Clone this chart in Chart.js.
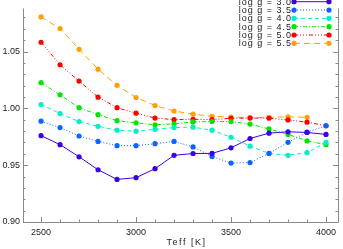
<!DOCTYPE html>
<html>
<head>
<meta charset="utf-8">
<script src="https://cdn.jsdelivr.net/npm/chart.js@4/dist/chart.umd.min.js"></script>
<style>
html,body{margin:0;padding:0;background:#fff;}
#c{display:block;}
</style>
</head>
<body>
<canvas id="c" width="343" height="249"></canvas>
<script>
const teff = [2500,2600,2700,2800,2900,3000,3100,3200,3300,3400,3500,3600,3700,3800,3900,4000];
const seriesLabels = ['log g = 3.0','log g = 3.5','log g = 4.0','log g = 4.5','log g = 5.0','log g = 5.5'];
const logg30 = [0.9760,0.9681,0.9574,0.9460,0.9375,0.9390,0.9469,0.9587,0.9603,0.9604,0.9653,0.9735,0.9782,0.9794,0.9788,0.9771];
const logg35 = [0.9887,0.9831,0.9757,0.9709,0.9672,0.9672,0.9689,0.9709,0.9661,0.9576,0.9519,0.9523,0.9604,0.9701,0.9791,0.9847];
const logg40 = [1.0034,0.9955,0.9884,0.9842,0.9808,0.9799,0.9816,0.9831,0.9835,0.9808,0.9746,0.9667,0.9604,0.9587,0.9610,0.9701];
const logg45 = [1.0226,1.0119,1.0006,0.9945,0.9892,0.9873,0.9856,0.9864,0.9881,0.9884,0.9884,0.9862,0.9819,0.9771,0.9714,0.9681];
const logg50 = [1.0582,1.0384,1.0240,1.0099,1.0006,0.9958,0.9915,0.9901,0.9904,0.9901,0.9913,0.9915,0.9913,0.9898,0.9879,0.9847];
const logg55 = [1.0805,1.0703,1.0520,1.0345,1.0203,1.0096,1.0025,0.9977,0.9949,0.9930,0.9924,0.9918,0.9921,0.9926,0.9921];
const xTicks = [2500,3000,3500,4000];
const yTicks = [0.90,0.95,1.00,1.05];
const xTitle = 'Teff [K]';

const colors = ['#3c00e6','#0a64ff','#00f0c8','#00e600','#ff0000','#ffa000'];
const dashes = [[],[1,2],[4,3],[4,2,1,2],[4,2,1,2,1,2,1,2],[6,4]];
const allSeries = [logg30,logg35,logg40,logg45,logg50,logg55];

const FONT = "'Liberation Sans', Arial, sans-serif";
const AXIS = '#8a8a8a';
const TXT = '#222';

const datasets = allSeries.map((s,i)=>({
  label: seriesLabels[i],
  data: s.map((v,j)=>({x:teff[j], y:v})),
  borderColor: colors[i],
  backgroundColor: colors[i],
  pointBackgroundColor: colors[i],
  pointBorderColor: colors[i],
  borderWidth: 1,
  borderDash: dashes[i],
  pointRadius: 2.6,
  pointBorderWidth: 0,
  tension: 0,
  fill: false
}));

const framePlugin = {
  id:'frame',
  afterDraw(chart){
    const ctx = chart.ctx, a = chart.chartArea;
    const xs = chart.scales.x, ys = chart.scales.y;
    ctx.save();
    ctx.strokeStyle = AXIS; ctx.lineWidth = 1; ctx.setLineDash([]);
    ctx.beginPath();
    ctx.moveTo(a.left+0.5, a.top); ctx.lineTo(a.left+0.5, a.bottom+0.5);
    ctx.lineTo(a.right+0.5, a.bottom+0.5); ctx.lineTo(a.right+0.5, a.top);
    ctx.stroke();
    ctx.beginPath();
    for(let v=2500; v<=4000; v+=100){
      const px = Math.round(xs.getPixelForValue(v))+0.5;
      const len = (v%500===0)?5:2.5;
      ctx.moveTo(px, a.bottom); ctx.lineTo(px, a.bottom-len);
    }
    for(let k=90; k<=108; k++){
      const v = k/100;
      const py = Math.round(ys.getPixelForValue(v))+0.5;
      const len = (k%5===0)?5:2.5;
      ctx.moveTo(a.left, py); ctx.lineTo(a.left+len, py);
      ctx.moveTo(a.right, py); ctx.lineTo(a.right-len, py);
    }
    ctx.stroke();
    // axis title
    ctx.font = '9px ' + FONT;
    try { ctx.letterSpacing = '1.5px'; } catch(e) {}
    ctx.fillStyle = TXT; ctx.textAlign = 'center'; ctx.textBaseline = 'middle';
    ctx.fillText(xTitle, (a.left+a.right)/2 + 6, 243);
    // legend
    try { ctx.letterSpacing = '1px'; } catch(e) {}
    const y0 = 1.7, step = 8.33, x1 = 294, x2 = 329;
    ctx.textAlign = 'right';
    chart.data.datasets.forEach((d,i)=>{
      const y = y0 + i*step;
      ctx.fillStyle = TXT;
      ctx.fillText(d.label, 292, y+0.5);
      ctx.strokeStyle = d.borderColor; ctx.lineWidth = 1;
      ctx.setLineDash(d.borderDash);
      ctx.beginPath(); ctx.moveTo(x1,y); ctx.lineTo(x2,y); ctx.stroke();
      ctx.setLineDash([]);
      ctx.fillStyle = d.borderColor;
      [x1,x2].forEach(px=>{ctx.beginPath(); ctx.arc(px,y,2.6,0,Math.PI*2); ctx.fill();});
    });
    try { ctx.letterSpacing = '0px'; } catch(e) {}
    ctx.restore();
  }
};

new Chart(document.getElementById('c'), {
  type:'line',
  data:{datasets},
  options:{
    responsive:false, animation:false,
    layout:{padding:{top:0,right:5,left:0,bottom:0}},
    plugins:{legend:{display:false}, tooltip:{enabled:false}},
    scales:{
      x:{type:'linear', min:2405, max:4063,
        afterBuildTicks(s){ s.ticks = xTicks.map(v=>({value:v})); },
        afterFit(s){ s.height = 27; },
        grid:{display:false, drawTicks:false}, border:{display:false},
        ticks:{font:{family:FONT,size:9}, color:TXT, padding:5, maxRotation:0, autoSkip:false,
          callback:v=>String(v)}
      },
      y:{type:'linear', min:0.90, max:1.088,
        afterBuildTicks(s){ s.ticks = yTicks.map(v=>({value:v})); },
        afterFit(s){ s.width = 23; },
        grid:{display:false, drawTicks:false}, border:{display:false},
        ticks:{font:{family:FONT,size:9}, color:TXT, padding:3, autoSkip:false,
          callback:v=>Number(v).toFixed(2)}
      }
    }
  },
  plugins:[framePlugin]
});
</script>
</body>
</html>
